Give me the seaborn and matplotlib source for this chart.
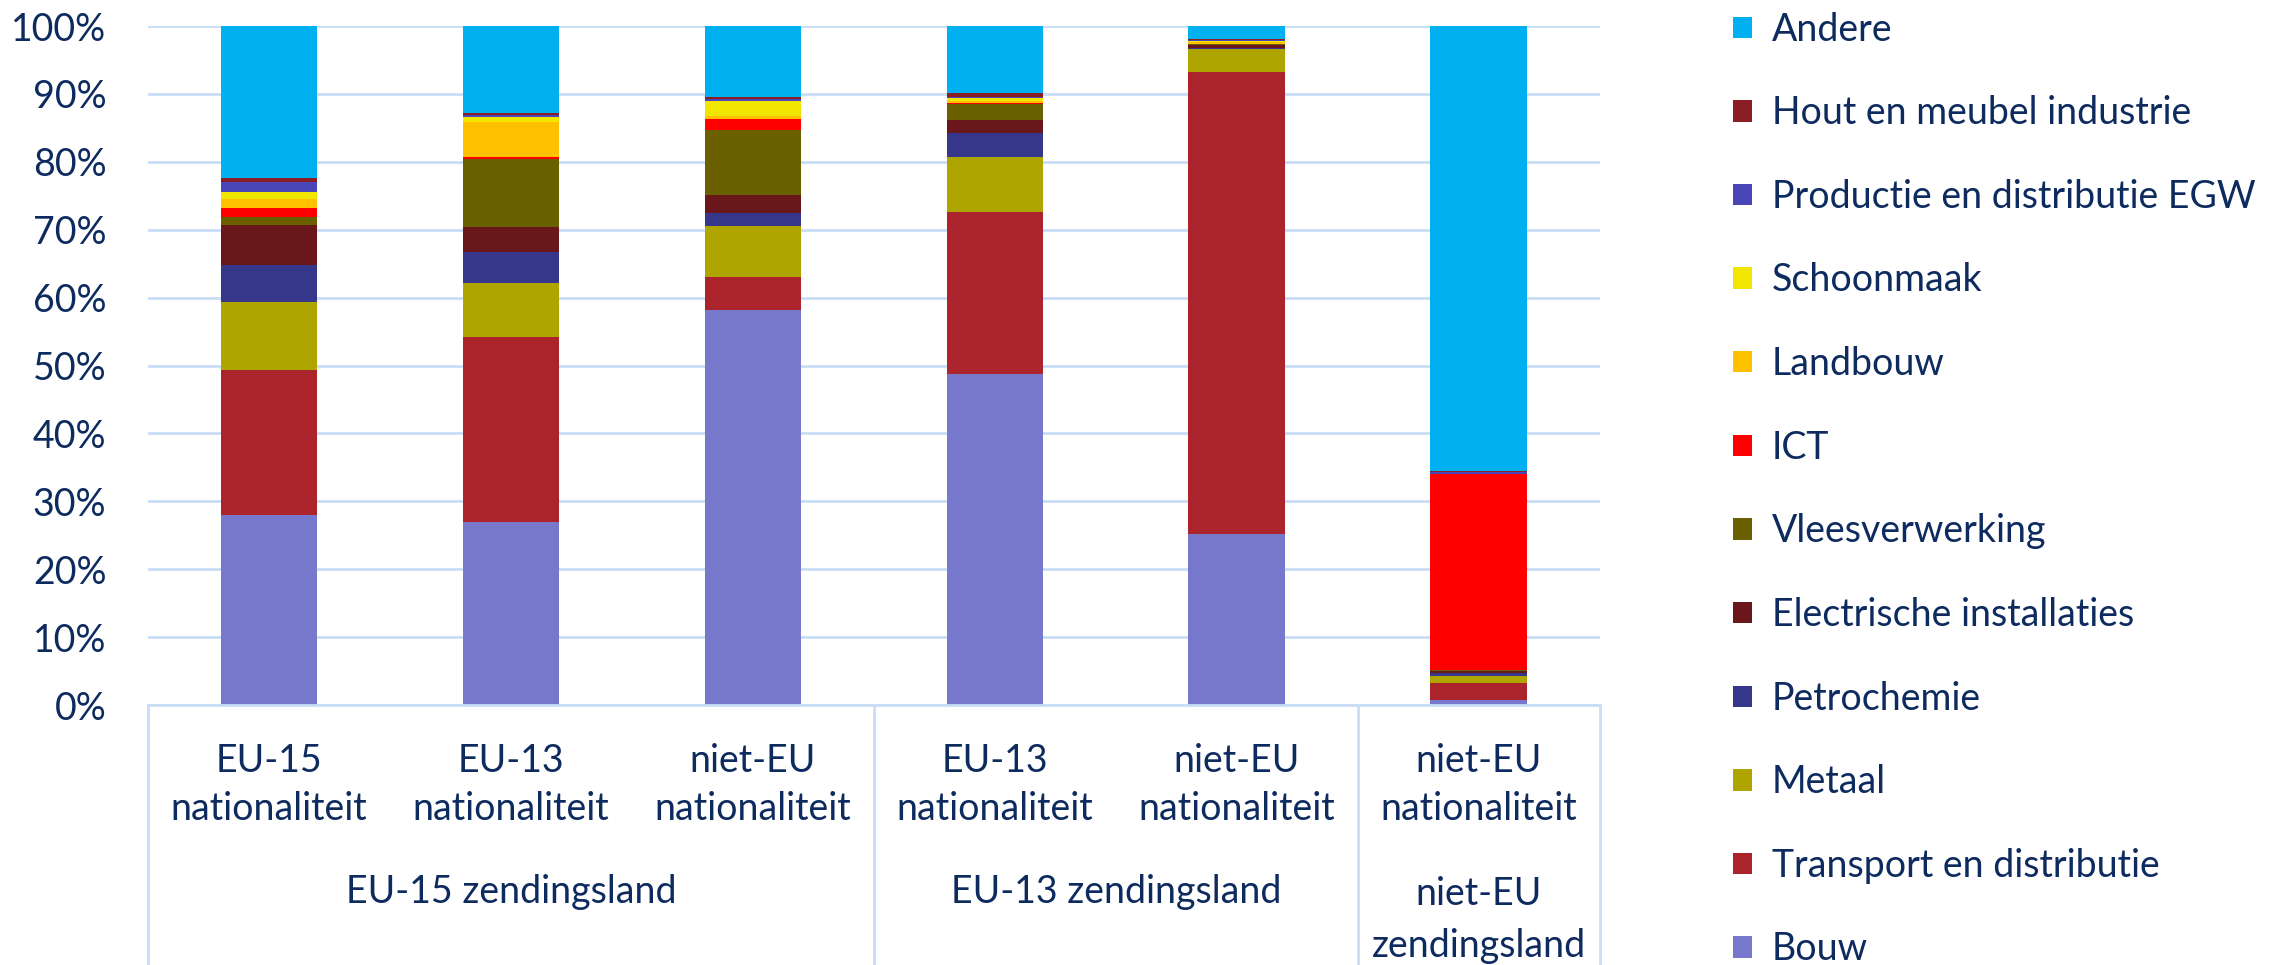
import pandas as pd
import seaborn as sns
import matplotlib.pyplot as plt
from matplotlib.patches import Patch
from matplotlib.transforms import blended_transform_factory

sns.set_theme(style='white')
plt.rcParams['font.family'] = ['Lato', 'DejaVu Sans']

# Data
nationaliteit = ['EU-15\nnationaliteit', 'EU-13\nnationaliteit', 'niet-EU\nnationaliteit',
                 'EU-13\nnationaliteit', 'niet-EU\nnationaliteit', 'niet-EU\nnationaliteit']
zendingsland = ['EU-15 zendingsland', 'EU-13 zendingsland', 'niet-EU\nzendingsland']
groep_grootte = [3, 2, 1]

sectoren = ['Bouw', 'Transport en distributie', 'Metaal', 'Petrochemie',
            'Electrische installaties', 'Vleesverwerking', 'ICT', 'Landbouw',
            'Schoonmaak', 'Productie en distributie EGW', 'Hout en meubel industrie', 'Andere']

bouw = [28.0, 26.9, 58.2, 48.7, 25.2, 0.8]
transport = [21.3, 27.3, 4.8, 23.9, 68.1, 2.46]
metaal = [10.1, 7.9, 7.5, 8.05, 3.28, 0.98]
petrochemie = [5.4, 4.6, 1.9, 3.63, 0.25, 0.54]
electrische = [5.93, 3.77, 2.65, 1.86, 0.4, 0.3]
vlees = [1.08, 9.95, 9.6, 2.35, 0.1, 0.05]
ict = [1.32, 0.35, 1.67, 0.15, 0.1, 28.95]
landbouw = [1.47, 5.15, 0.5, 0.25, 0.15, 0.0]
schoonmaak = [0.93, 0.74, 2.2, 0.5, 0.25, 0.0]
productie = [1.47, 0.3, 0.25, 0.1, 0.05, 0.2]
hout = [0.64, 0.3, 0.3, 0.69, 0.2, 0.15]
andere = [22.36, 12.75, 10.44, 9.8, 1.91, 65.57]

kleuren = ['#7777CC', '#AC242B', '#AFA500', '#36368A', '#6A171B', '#6A6000',
           '#FF0000', '#FFC000', '#F0E600', '#4A46B8', '#8B1D24', '#00B0F0']

tekst_kleur = '#0D2B5E'
grid_kleur = '#C9DEF6'
fs = 27

waarden = [bouw, transport, metaal, petrochemie, electrische, vlees, ict,
           landbouw, schoonmaak, productie, hout, andere]
balk_ids = ['b%d' % i for i in range(len(nationaliteit))]

rows = []
for s, vals in zip(sectoren, waarden):
    for b, v in zip(balk_ids, vals):
        rows.append({'balk': b, 'sector': s, 'waarde': v})
df = pd.DataFrame(rows)
df['sector'] = pd.Categorical(df['sector'], categories=sectoren, ordered=True)
df = df.sort_values(['balk', 'sector'])
df['cum'] = df.groupby('balk')['waarde'].cumsum()

fig = plt.figure(figsize=(22.92, 9.65), dpi=100)
ax = fig.add_axes([0.0646, 0.2694, 0.6334, 0.7036])

# gestapelde balken: van boven naar beneden over elkaar tekenen
for s, c in reversed(list(zip(sectoren, kleuren))):
    sns.barplot(data=df[df['sector'] == s], x='balk', y='cum', order=balk_ids,
                color=c, saturation=1, width=0.4, linewidth=0, ax=ax)

ax.set_xlim(-0.5, len(balk_ids) - 0.5)
ax.set_ylim(0, 100)
ax.set_yticks(range(0, 101, 10))
ax.set_yticklabels(['%d%%' % t for t in range(0, 101, 10)])
ax.yaxis.grid(True, color=grid_kleur, linewidth=2)
ax.set_axisbelow(True)
for sp in ['top', 'right', 'left']:
    ax.spines[sp].set_visible(False)
ax.spines['bottom'].set_color(grid_kleur)
ax.spines['bottom'].set_linewidth(2)
ax.set_xlabel('')
ax.set_ylabel('')
ax.set_xticks(range(len(balk_ids)))
ax.set_xticklabels(nationaliteit, linespacing=1.43)
ax.tick_params(axis='x', length=0, pad=27, labelsize=fs, labelcolor=tekst_kleur)
ax.tick_params(axis='y', length=0, pad=30, labelsize=fs, labelcolor=tekst_kleur)

# tweede niveau van de categorie-as
trans = blended_transform_factory(ax.transData, ax.transAxes)
ax_h = 0.7036 * 965
onder = -(965 - 705) / ax_h
grenzen = [-0.5]
for g in groep_grootte:
    grenzen.append(grenzen[-1] + g)
for x in grenzen:
    ax.plot([x, x], [0, onder], transform=trans, color=grid_kleur, linewidth=2, clip_on=False)
for i, naam in enumerate(zendingsland):
    midden = (grenzen[i] + grenzen[i + 1]) / 2
    y = 892 if '\n' not in naam else 920
    ax.text(midden, -(y - 705) / ax_h, naam, transform=trans, ha='center', va='center',
            fontsize=fs, color=tekst_kleur, linespacing=1.54)

handles = [Patch(facecolor=c, edgecolor='none', label=s) for s, c in zip(sectoren, kleuren)][::-1]
leg = fig.legend(handles=handles, loc='upper left', bbox_to_anchor=(1733 / 2292, 0.988),
                 frameon=False, fontsize=fs, labelspacing=1.27, handlelength=0.5, handleheight=0.5,
                 handletextpad=0.53, borderpad=0, borderaxespad=0)
for t in leg.get_texts():
    t.set_color(tekst_kleur)

fig.savefig('out.png', dpi=100)
